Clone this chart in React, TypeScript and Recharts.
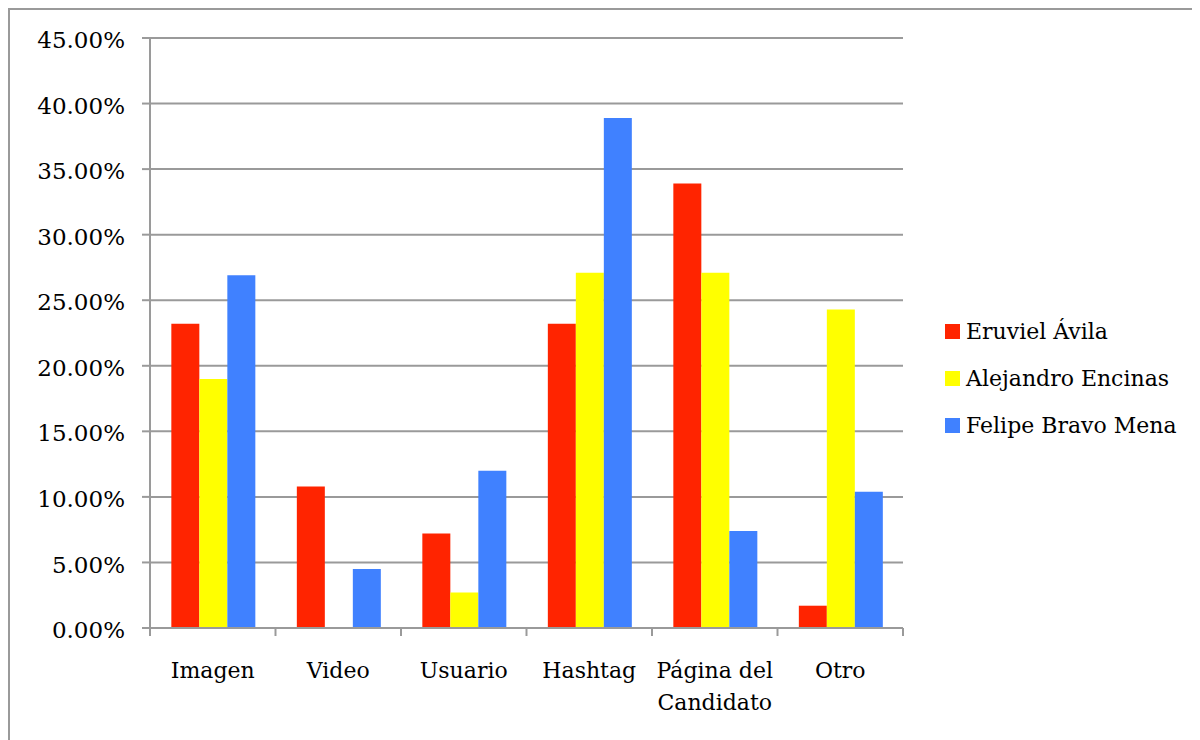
import { BarChart, Bar, XAxis, YAxis, CartesianGrid } from 'recharts';

// Share of shared content type per candidate
const categories = ['Imagen', 'Video', 'Usuario', 'Hashtag', 'Página del Candidato', 'Otro'];
const eruviel = [0.232, 0.108, 0.072, 0.232, 0.339, 0.017];
const alejandro = [0.19, 0, 0.027, 0.271, 0.271, 0.243];
const felipe = [0.269, 0.045, 0.12, 0.389, 0.074, 0.104];
const yTicks = [0, 0.05, 0.1, 0.15, 0.2, 0.25, 0.3, 0.35, 0.4, 0.45];

const series = [
  { key: 'eruviel', name: 'Eruviel Ávila', color: '#FF2400' },
  { key: 'alejandro', name: 'Alejandro Encinas', color: '#FFFF00' },
  { key: 'felipe', name: 'Felipe Bravo Mena', color: '#4081FF' },
];

const data = categories.map((name, i) => ({
  name,
  eruviel: eruviel[i],
  alejandro: alejandro[i],
  felipe: felipe[i],
}));

const FONT = '"DejaVu Serif", serif';
const GRAY = '#9a9a9a';
const BAND = 753 / categories.length;

const CategoryTick = (props: any) => {
  const { x, y, payload, index } = props;
  const words = String(payload.value).split(' ');
  const lines = words.length > 2 ? [words.slice(0, 2).join(' '), words.slice(2).join(' ')] : [payload.value];
  return (
    <g>
      <line x1={x - BAND / 2} x2={x - BAND / 2} y1={y} y2={y + 8} stroke={GRAY} strokeWidth={2} />
      {index === categories.length - 1 && (
        <line x1={x + BAND / 2} x2={x + BAND / 2} y1={y} y2={y + 8} stroke={GRAY} strokeWidth={2} />
      )}
      {lines.map((l, i) => (
        <text key={i} x={x} y={y + 50 + i * 32} textAnchor="middle" fill="#000" fontSize={22} fontFamily={FONT}>
          {l}
        </text>
      ))}
    </g>
  );
};

const App = () => {
  return (
    <div
      style={{
        position: 'relative',
        width: 1190,
        height: 730,
        borderLeft: `2px solid ${GRAY}`,
        borderTop: `2px solid ${GRAY}`,
        background: '#fff',
      }}
    >
      <BarChart
        width={1190}
        height={730}
        data={data}
        margin={{ top: 28, right: 297, left: 0, bottom: 52 }}
        barCategoryGap="17%"
        barGap={0}
      >
        <CartesianGrid vertical={false} stroke={GRAY} strokeWidth={2} />
        <XAxis
          dataKey="name"
          height={60}
          interval={0}
          tickLine={false}
          tickSize={0}
          tickMargin={0}
          axisLine={{ stroke: GRAY, strokeWidth: 2 }}
          tick={<CategoryTick />}
        />
        <YAxis
          width={140}
          domain={[0, 0.45]}
          ticks={yTicks}
          interval={0}
          tickSize={8}
          tickMargin={17}
          tickFormatter={(v: number) => (v * 100).toFixed(2) + '%'}
          axisLine={{ stroke: GRAY, strokeWidth: 2 }}
          tickLine={{ stroke: GRAY, strokeWidth: 2 }}
          tick={{ fill: '#000', fontSize: 23, fontFamily: FONT, dy: 2 }}
        />
        {series.map((s) => (
          <Bar key={s.key} dataKey={s.key} name={s.name} fill={s.color} isAnimationActive={false} />
        ))}
      </BarChart>
      <div style={{ position: 'absolute', left: 935, top: 298, fontFamily: FONT, fontSize: 22, color: '#000' }}>
        {series.map((s) => (
          <div key={s.key} style={{ display: 'flex', alignItems: 'center', height: 47 }}>
            <span style={{ width: 15, height: 15, background: s.color, marginRight: 6, display: 'inline-block' }} />
            <span>{s.name}</span>
          </div>
        ))}
      </div>
    </div>
  );
};

export default App;
